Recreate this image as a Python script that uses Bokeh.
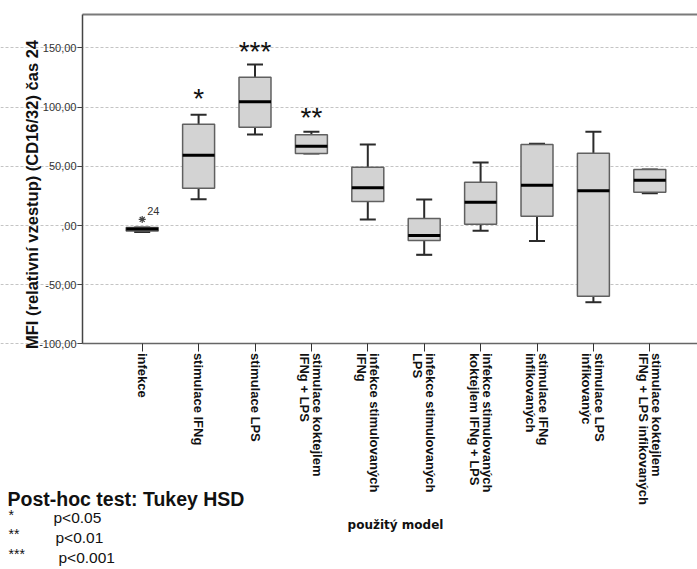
import math
from bokeh.plotting import figure
from bokeh.models import Range1d, FixedTicker, LinearAxis, Label, ColumnDataSource
from bokeh.core.properties import value
from bokeh.embed import file_html
from bokeh.resources import INLINE

# ---------------- data ----------------
categories = [
    "infekce",
    "stimulace IFNg",
    "stimulace LPS",
    "stimulace koktejlem\nIFNg + LPS",
    "infekce stimulovaných\nIFNg",
    "infekce stimulovaných\nLPS",
    "infekce stimulovaných\nkoktejlem IFNg + LPS",
    "stimulace IFNg\ninfikovaných",
    "stimulace LPS\ninfikovanýc",
    "stimulace koktejlem\nIFNg + LPS infikovaných",
]
lower_whisker = [-5.5, 22.2, 76.9, 60.8, 5.1, -24.8, -4.5, -13.0, -64.8, 27.3]
q1 = [-4.6, 31.5, 83.0, 60.8, 20.3, -12.7, 1.1, 7.9, -59.7, 28.1]
median = [-3.0, 59.4, 104.5, 67.0, 31.8, -8.4, 19.7, 34.0, 29.3, 38.3]
q3 = [-1.7, 85.6, 125.3, 76.6, 49.3, 5.9, 36.6, 68.4, 61.1, 47.3]
upper_whisker = [-1.7, 93.5, 136.0, 79.1, 68.4, 22.0, 53.2, 69.0, 79.1, 47.3]

outlier_cat = [1]
outlier_val = [5.1]
outlier_id = ["24"]

sig_cat = [2, 3, 4]
sig_text = ["*", "***", "**"]
sig_y = [112.5, 152.0, 96.0]

y_ticks = [-100, -50, 0, 50, 100, 150]
y_tick_labels = ["-100,00", "-50,00", ",00", "50,00", "100,00", "150,00"]

# ---------------- geometry (canvas pixels -> data) ----------------
W, H = 697, 569
KX, CX1 = 56.4, 141.7      # px per category step, px of first category
KY, PY0 = 1.184, 225.0     # px per unit, px of value 0
FL, FT = 82, 14            # plot-area left / top edge in px

def xd(px):
    return 1 + (px - CX1) / KX

def yd(py):
    return (PY0 - py) / KY

X_LEFT, X_RIGHT = xd(FL), xd(W)
Y_BOTTOM, Y_TOP = -100.0, yd(FT)

xs = list(range(1, len(categories) + 1))
BOX_W = 0.567
CAP_W = 0.284

p = figure(width=W, height=H, x_range=Range1d(xd(0), xd(W)),
           y_range=Range1d(yd(H), yd(0)),
           output_backend="svg", toolbar_location=None,
           min_border_left=0, min_border_right=0, min_border_top=0,
           min_border_bottom=0)
p.outline_line_color = None
p.background_fill_color = "white"
p.border_fill_color = "white"

# grid
p.xgrid.visible = False
p.ygrid.ticker = FixedTicker(ticks=y_ticks)
p.ygrid.bounds = (X_LEFT, X_RIGHT)
p.ygrid.grid_line_color = "#c4c4c4"
p.ygrid.grid_line_dash = "3 2"
p.ygrid.grid_line_width = 1

# y axis
ya = p.yaxis[0]
ya.fixed_location = X_LEFT
ya.bounds = (Y_BOTTOM, Y_TOP)
ya.ticker = FixedTicker(ticks=y_ticks)
ya.major_label_overrides = {t: l for t, l in zip(y_ticks, y_tick_labels)}
ya.major_label_text_font = "Liberation Sans"
ya.major_label_text_font_size = "11px"
ya.major_label_text_color = "#333333"
ya.major_tick_out = 5
ya.major_tick_in = 0
ya.minor_tick_out = 0
ya.minor_tick_in = 0
ya.major_label_standoff = 1
ya.axis_line_color = "#444444"
ya.axis_line_width = 1.5
ya.major_tick_line_color = "#444444"

# x axis
xa = p.xaxis[0]
xa.fixed_location = Y_BOTTOM
xa.bounds = (X_LEFT, X_RIGHT)
xa.ticker = FixedTicker(ticks=xs)
xa.major_label_overrides = {x: c for x, c in zip(xs, categories)}
xa.major_label_orientation = -math.pi / 2
xa.major_label_text_font = "Liberation Sans"
xa.major_label_text_font_style = "bold"
xa.major_label_text_font_size = "13px"
xa.major_label_text_line_height = 0.86
xa.major_label_text_color = "#111111"
xa.major_tick_out = 8
xa.major_tick_in = 0
xa.minor_tick_out = 0
xa.minor_tick_in = 0
xa.major_label_standoff = 1
xa.axis_line_color = "#666666"
xa.axis_line_width = 1.5
xa.major_tick_line_color = "#333333"

# top border line
top = LinearAxis(ticker=FixedTicker(ticks=[]), fixed_location=Y_TOP,
                 bounds=(X_LEFT, X_RIGHT), major_tick_out=0, major_tick_in=0,
                 minor_tick_out=0, minor_tick_in=0, major_label_standoff=0,
                 axis_line_color="#7a7a7a", axis_line_width=2)
p.add_layout(top, "above")

# axis titles
p.add_layout(Label(x=xd(31), y=yd(194), text="MFI (relativní vzestup) (CD16/32) čas 24",
                   angle=math.pi / 2, text_align="center", text_baseline="middle",
                   text_font="Liberation Sans", text_font_style="bold",
                   text_font_size="16.5px", text_color="#111111"))
p.add_layout(Label(x=xd(395), y=yd(524), text="použitý model",
                   text_align="center", text_baseline="middle",
                   text_font="DejaVu Sans", text_font_style="bold",
                   text_font_size="12px", text_color="#111111"))

# ---------------- boxes ----------------
src = ColumnDataSource(dict(
    x=xs, lo=lower_whisker, q1=q1, med=median, q3=q3, hi=upper_whisker,
    xl=[x - BOX_W / 2 for x in xs], xr=[x + BOX_W / 2 for x in xs],
    cl=[x - CAP_W / 2 for x in xs], cr=[x + CAP_W / 2 for x in xs],
))
wk = dict(line_color="#2b2b2b", line_width=2)
p.segment(x0="x", y0="q3", x1="x", y1="hi", source=src, **wk)
p.segment(x0="x", y0="lo", x1="x", y1="q1", source=src, **wk)
p.segment(x0="cl", y0="hi", x1="cr", y1="hi", source=src, **wk)
p.segment(x0="cl", y0="lo", x1="cr", y1="lo", source=src, **wk)
p.vbar(x="x", width=BOX_W, bottom="q1", top="q3", source=src,
       fill_color="#d3d3d3", line_color="#606060", line_width=1.5)
p.segment(x0="xl", y0="med", x1="xr", y1="med", source=src,
          line_color="black", line_width=3)

# outlier
osrc = ColumnDataSource(dict(x=outlier_cat, y=outlier_val, t=outlier_id))
p.scatter(x="x", y="y", source=osrc, marker="asterisk", size=7,
          line_color="#444444", line_width=1.2)
p.text(x="x", y="y", text="t", source=osrc, x_offset=5, y_offset=-8,
       text_font=value("Liberation Sans"), text_font_size="11px",
       text_color="#333333", text_baseline="middle", text_align="left")

# significance stars
ssrc = ColumnDataSource(dict(x=sig_cat, y=sig_y, t=sig_text))
p.text(x="x", y="y", text="t", source=ssrc, y_offset=6,
       text_font=value("Liberation Sans"), text_font_size="28px",
       text_color="#111111", text_baseline="middle", text_align="center")

# ---------------- footnote ----------------
def add_label(px, py, txt, size, bold=False):
    p.add_layout(Label(x=xd(px), y=yd(py), text=txt, text_font="Liberation Sans",
                       text_font_size=size, text_font_style="bold" if bold else "normal",
                       text_color="#111111", text_baseline="alphabetic",
                       text_align="left"))

add_label(7, 498, "Post-hoc test: Tukey HSD", "19.5px", True)
add_label(8, 514, "*", "14px")
add_label(53, 517, "p<0.05", "15.5px")
add_label(8, 533, "**", "14px")
add_label(55, 537, "p<0.01", "15.5px")
add_label(8, 553, "***", "14px")
add_label(58, 557, "p<0.001", "15.5px")

open("out.html", "w").write(file_html(p, INLINE))
